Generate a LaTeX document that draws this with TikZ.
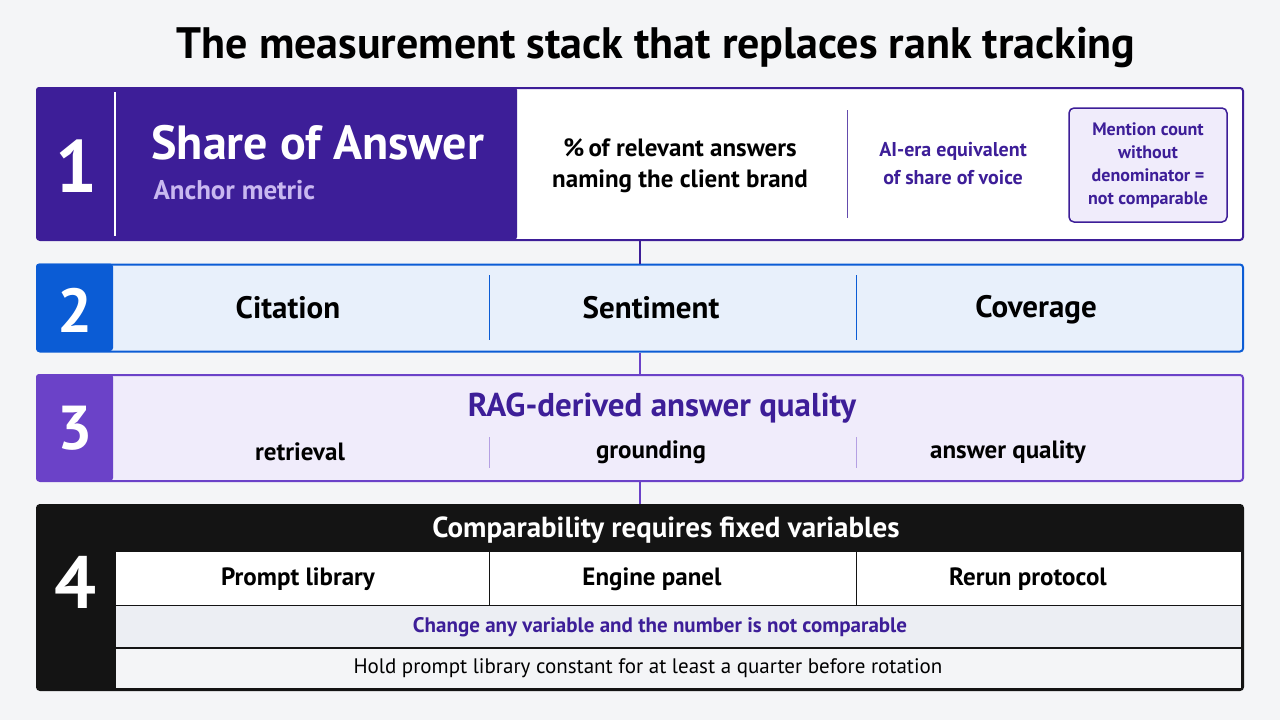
\documentclass[tikz,border=0pt]{standalone}
\usepackage{fontspec}
\setmainfont{PT Sans}
\usepackage{xcolor}
\usetikzlibrary{positioning,calc}
\definecolor{bgc}{HTML}{F4F5F7}
\definecolor{deep}{HTML}{3D1E98}
\definecolor{lav}{HTML}{C9B8F0}
\definecolor{blu}{HTML}{0B5CD5}
\definecolor{blufill}{HTML}{E8F0FB}
\definecolor{vio}{HTML}{6B42C8}
\definecolor{viofill}{HTML}{F0ECFB}
\definecolor{ink}{HTML}{141414}
\definecolor{rowa}{HTML}{ECEEF3}

\begin{document}
\begin{tikzpicture}[x=1pt,y=-1pt,
            band/.style={draw, rounded corners=3pt, line width=2pt},
            num/.style={font=\fontsize{74}{74}\selectfont\bfseries, text=white},
            cell/.style={font=\fontsize{31}{31}\selectfont\bfseries},
            sub/.style={font=\fontsize{25}{25}\selectfont\bfseries},
            small/.style={font=\fontsize{20}{24}\selectfont\bfseries, align=center},
            row/.style={font=\fontsize{21}{21}\selectfont},
            link/.style={line width=2pt}
            ]
            \useasboundingbox (0,0) rectangle (1280,720);
            \fill[bgc] (0,0) rectangle (1280,720);

            % Title
            \node[font=\fontsize{44}{44}\selectfont\bfseries] (title) at (656,48) {The measurement stack that replaces rank tracking};

            % Layer 1
            \node[band, draw=deep, fill=white, minimum width=1206, minimum height=152, inner sep=0] (b1) at (640,164) {};
            \fill[deep, rounded corners=3pt] (b1.north west) rectangle (517,240);
            \draw[white, line width=1.5pt] (115,92) -- (115,236);
            \node[num] (n1) at (76,166) {1};
            \node[font=\fontsize{48}{48}\selectfont\bfseries, text=white, anchor=west] (soa) at (148,143) {Share of Answer};
            \node[font=\fontsize{27}{27}\selectfont\bfseries, text=lav, anchor=west] (anc) at (150,190) {Anchor metric};
            \node[sub, align=center] (pct) at (680,166) {\%\,of relevant answers\\[6pt]naming the client brand};
            \draw[deep!80, line width=1pt] (847,110) -- (847,218);
            \node[small, text=deep] (era) at (953,164) {AI-era equivalent\\[4pt]of share of voice};
            \node[draw=deep, fill=viofill, rounded corners=5pt, line width=1.5pt, minimum width=158, minimum height=114, small, font=\fontsize{18}{23}\selectfont\bfseries, text=deep] (mc) at (1148,165) {Mention count\\without\\denominator =\\not comparable};

            % Layer 2
            \node[band, draw=blu, fill=blufill, minimum width=1206, minimum height=87, inner sep=0] (b2) at (640,308) {};
            \fill[blu, rounded corners=3pt] (b2.north west) rectangle (113,351);
            \node[num, font=\fontsize{62}{62}\selectfont\bfseries] (n2) at (75,310) {2};
            \draw[blu, line width=1pt] (489,275) -- (489,340);
            \draw[blu, line width=1pt] (856,275) -- (856,340);
            \node[cell] (cit) at (288,308) {Citation};
            \node[cell] (sen) at (651,308) {Sentiment};
            \node[cell] (cov) at (1036,310) {Coverage};

            % Layer 3
            \node[band, draw=vio, fill=viofill, minimum width=1206, minimum height=106, inner sep=0] (b3) at (640,428) {};
            \fill[vio, rounded corners=3pt] (b3.north west) rectangle (113,481);
            \node[num, font=\fontsize{62}{62}\selectfont\bfseries] (n3) at (75,428) {3};
            \node[font=\fontsize{33}{33}\selectfont\bfseries, text=deep] (rag) at (662,408) {RAG-derived answer quality};
            \draw[vio!50, line width=1pt] (489,437) -- (489,468);
            \draw[vio!50, line width=1pt] (856,437) -- (856,468);
            \node[sub] (ret) at (300,452) {retrieval};
            \node[sub] (gro) at (651,452) {grounding};
            \node[sub] (aq) at (1008,452) {answer quality};

            % Layer 4
            \node[band, draw=ink, fill=ink, minimum width=1206, minimum height=185, inner sep=0] (b4) at (640,597.5) {};
            \node[num] (n4) at (75,582) {4};
            \node[font=\fontsize{29}{29}\selectfont\bfseries, text=white] (cmp) at (666,530) {Comparability requires fixed variables};
            \fill[white] (116,552) rectangle (1241,605);
            \fill[rowa] (116,606) rectangle (1241,647);
            \fill[bgc] (116,649) rectangle (1241,688);
            \draw[ink, line width=1pt] (489,552) -- (489,605);
            \draw[ink, line width=1pt] (856,552) -- (856,605);
            \node[sub] (pl) at (298,579) {Prompt library};
            \node[sub] (ep) at (652,579) {Engine panel};
            \node[sub] (rp) at (1028,579) {Rerun protocol};
            \node[row, font=\fontsize{21}{21}\selectfont\bfseries, text=deep] (chg) at (660,627) {Change any variable and the number is not comparable};
            \node[row] (hold) at (648,668) {Hold prompt library constant for at least a quarter before rotation};

            % Links
            \draw[link, deep] (b1.south) -- (b2.north);
            \draw[link, vio] (b2.south) -- (b3.north);
            \draw[link, vio] (b3.south) -- (b4.north);
        \end{tikzpicture}
\end{document}
